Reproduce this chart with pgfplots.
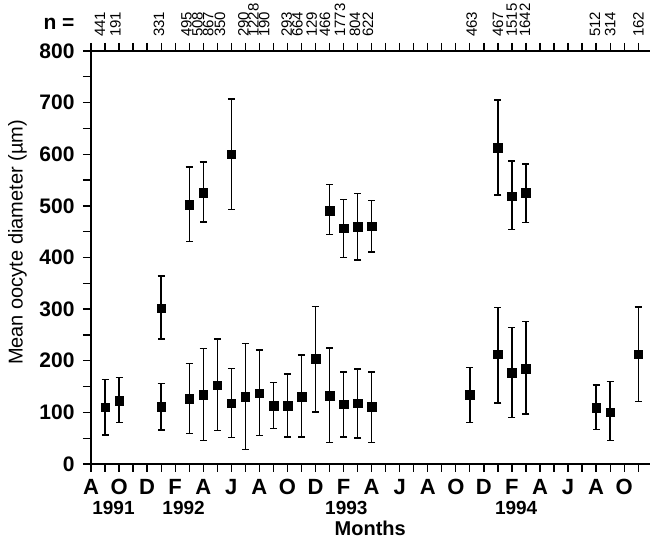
\documentclass[border=0pt]{standalone}
\usepackage{fontspec}
\setmainfont{Liberation Sans}
\usepackage{pgfplots}
\pgfplotsset{compat=1.18}
\usepackage{pgfplotstable}
\usetikzlibrary{calc}

% month index: 0 = Aug 1991
\pgfplotstableread{
m  v    lo   hi
1  110  56   164
2  123  80   167
5  111  66   156
7  127  59   195
8  134  45   224
9  153  65   242
10 118  51   185
11 130  28   233
12 137  55   221
13 113  69   158
14 113  52   174
15 130  52   211
16 204  101  305
17 132  42   225
18 116  52   178
19 118  50   184
20 111  42   178
27 134  80   187
29 213  118  303
30 177  90   264
31 185  97   276
36 109  67   153
37 100  45   160
39 213  121  304
}\lowtab

\pgfplotstableread{
m  v    lo   hi
5  302  242  364
7  502  431  575
8  526  469  585
10 600  493  707
17 491  444  541
18 457  400  512
19 460  395  524
20 461  411  510
29 613  521  705
30 519  454  587
31 525  468  581
}\hightab

\newcommand{\nlab}[2]{\node[rotate=90, anchor=west, inner sep=0pt, font=\fontsize{15bp}{17bp}\selectfont] at ($(axis cs:#1,800)+(0,14bp)$) {#2};}

\begin{document}
\begin{tikzpicture}
\begin{axis}[
    scale only axis,
    width=559bp, height=413bp,
    xmin=0, xmax=39.84, ymin=0, ymax=800,
    axis x line*=box, axis y line*=left,
    axis line style={line width=2.2pt},
    tick align=outside,
    major tick length=8bp, minor tick length=8bp,
    tick style={line width=1.3pt, black},
    xtick={0,...,39},
    xticklabels={A,,O,,D,,F,,A,,J,,A,,O,,D,,F,,A,,J,,A,,O,,D,,F,,A,,J,,A,,O,},
    xtick pos=both, xticklabel pos=bottom,
    ytick={0,100,...,800}, minor ytick={50,150,...,750},
    ytick pos=left,
    /pgf/number format/assume math mode=true,
    xticklabel style={font=\bfseries\fontsize{22bp}{24bp}\selectfont, yshift=-4bp},
    yticklabel style={font=\bfseries\fontsize{21bp}{23bp}\selectfont, xshift=-5bp},
    clip=false,
]

\addplot[only marks, mark=square*, mark size=4.3bp, black,
    error bars/.cd, y dir=both, y explicit, error mark=|,
    error bar style={line width=1.4pt},
    error mark options={mark size=3.5bp, line width=1.4pt}]
table[x=m, y=v, y error plus expr=\thisrow{hi}-\thisrow{v}, y error minus expr=\thisrow{v}-\thisrow{lo}] {\lowtab};

\addplot[only marks, mark=square*, mark size=4.3bp, black,
    error bars/.cd, y dir=both, y explicit, error mark=|,
    error bar style={line width=1.4pt},
    error mark options={mark size=3.5bp, line width=1.4pt}]
table[x=m, y=v, y error plus expr=\thisrow{hi}-\thisrow{v}, y error minus expr=\thisrow{v}-\thisrow{lo}] {\hightab};

% sample sizes
\nlab{0.64}{441}
\nlab{1.75}{191}
\nlab{4.85}{331}
\nlab{6.81}{495}
\nlab{7.59}{508}
\nlab{8.36}{867}
\nlab{9.19}{350}
\nlab{10.86}{290}
\nlab{11.57}{1228}
\nlab{12.34}{190}
\nlab{13.95}{293}
\nlab{14.72}{664}
\nlab{15.73}{129}
\nlab{16.68}{466}
\nlab{17.75}{1773}
\nlab{18.82}{804}
\nlab{19.74}{622}
\nlab{27.14}{463}
\nlab{29.0}{467}
\nlab{29.99}{1515}
\nlab{30.93}{1642}
\nlab{35.92}{512}
\nlab{37.01}{314}
\nlab{39.02}{162}

\node[font=\bfseries\fontsize{21bp}{23bp}\selectfont] at ($(rel axis cs:0,1)+(-32bp,27bp)$) {n =};

% years and axis titles
\node[font=\bfseries\fontsize{19bp}{21bp}\selectfont] at ($(axis cs:1.6,0)+(0,-44bp)$) {1991};
\node[font=\bfseries\fontsize{19bp}{21bp}\selectfont] at ($(axis cs:6.6,0)+(0,-44bp)$) {1992};
\node[font=\bfseries\fontsize{19bp}{21bp}\selectfont] at ($(axis cs:18.2,0)+(0,-44bp)$) {1993};
\node[font=\bfseries\fontsize{19bp}{21bp}\selectfont] at ($(axis cs:30.3,0)+(0,-44bp)$) {1994};
\node[font=\bfseries\fontsize{20bp}{22bp}\selectfont] at ($(axis cs:19.9,0)+(0,-64bp)$) {Months};
\node[rotate=90, font=\fontsize{20bp}{22bp}\selectfont] at ($(rel axis cs:0,0.5)+(-73.5bp,15bp)$) {Mean oocyte diameter (µm)};
\end{axis}
\pgfresetboundingbox
\path ($(current axis.south west)+(-91bp,-74bp)$) rectangle ($(current axis.north east)+(0,51bp)$);
\end{tikzpicture}
\end{document}
